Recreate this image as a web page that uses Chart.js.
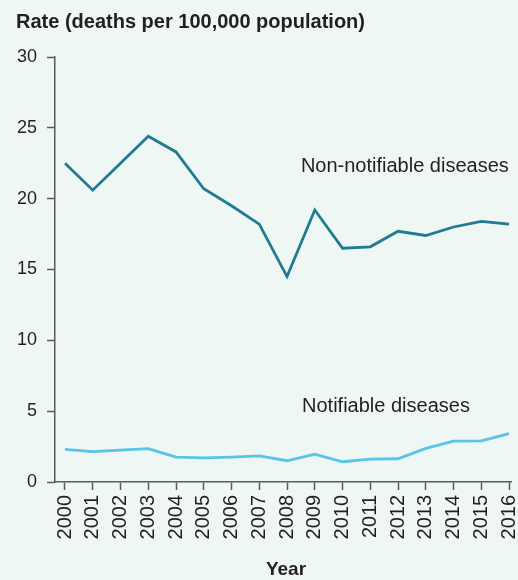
<!DOCTYPE html>
<html>
<head>
<meta charset="utf-8">
<script src="https://cdn.jsdelivr.net/npm/chart.js@4/dist/chart.umd.min.js"></script>
<style>
    html, body { margin: 0; padding: 0; background: #eef7f3; }
    canvas { display: block; }
</style>
</head>
<body>
<canvas id="rateChart" width="518" height="580"></canvas>
<script>
// Data
const years = ['2000', '2001', '2002', '2003', '2004', '2005', '2006', '2007', '2008',
               '2009', '2010', '2011', '2012', '2013', '2014', '2015', '2016'];
const nonNotifiable = [22.5, 20.6, 22.5, 24.4, 23.3, 20.7, 19.5, 18.2, 14.5,
                       19.2, 16.5, 16.6, 17.7, 17.4, 18.0, 18.4, 18.2];
const notifiable = [2.3, 2.15, 2.25, 2.35, 1.75, 1.7, 1.76, 1.85, 1.5,
                    1.97, 1.43, 1.62, 1.64, 2.37, 2.88, 2.9, 3.42];
const yTicks = [0, 5, 10, 15, 20, 25, 30];

const textColor = '#231f20';
const axisColor = '#5a5a5a';
const FONT = '"Liberation Sans", Arial, sans-serif';

// Title, series labels and x axis title
const labelPlugin = {
    id: 'labels',
    afterDraw(chart) {
        const ctx = chart.ctx;
        const x = chart.scales.x;
        const y = chart.scales.y;
        ctx.save();
        ctx.fillStyle = textColor;
        ctx.textBaseline = 'middle';

        ctx.font = 'bold 20px ' + FONT;
        ctx.textAlign = 'left';
        ctx.fillText('Rate (deaths per 100,000 population)', 16, 22);

        ctx.font = '20px ' + FONT;
        ctx.fillText('Non-notifiable diseases', x.getPixelForValue(8.5), y.getPixelForValue(22.3));
        ctx.fillText('Notifiable diseases', x.getPixelForValue(8.54), y.getPixelForValue(5.3));

        ctx.font = 'bold 19px ' + FONT;
        ctx.textAlign = 'center';
        ctx.fillText('Year', 286, 570);
        ctx.restore();
    }
};

new Chart(document.getElementById('rateChart'), {
    type: 'line',
    data: {
        datasets: [{
            label: 'Non-notifiable diseases',
            data: nonNotifiable.map((v, i) => ({ x: i, y: v })),
            borderColor: '#217a93',
            borderWidth: 2.8,
            borderJoinStyle: 'miter',
            pointRadius: 0,
            tension: 0
        }, {
            label: 'Notifiable diseases',
            data: notifiable.map((v, i) => ({ x: i, y: v })),
            borderColor: '#58c4ea',
            borderWidth: 2.8,
            borderJoinStyle: 'miter',
            pointRadius: 0,
            tension: 0
        }]
    },
    options: {
        responsive: false,
        animation: false,
        layout: {
            padding: { top: 57, right: 7, left: 0, bottom: 0 }
        },
        plugins: {
            legend: { display: false },
            tooltip: { enabled: false }
        },
        scales: {
            x: {
                type: 'linear',
                min: -0.36,
                max: 16.07,
                afterBuildTicks: function(scale) {
                    scale.ticks = years.map((yr, i) => ({ value: i }));
                },
                afterFit: function(scale) {
                    scale.height = 98;
                    scale.paddingLeft = 0;
                    scale.paddingRight = 0;
                },
                grid: {
                    drawOnChartArea: false,
                    drawTicks: true,
                    tickLength: 8,
                    tickWidth: 1.5,
                    tickColor: axisColor
                },
                border: { display: true, color: axisColor, width: 1.5 },
                ticks: {
                    autoSkip: false,
                    minRotation: 90,
                    maxRotation: 90,
                    padding: 5,
                    color: textColor,
                    font: { family: FONT, size: 20 },
                    callback: function(value) {
                        return years[value];
                    }
                }
            },
            y: {
                min: 0,
                max: 30,
                afterBuildTicks: function(scale) {
                    scale.ticks = yTicks.map(v => ({ value: v }));
                },
                afterFit: function(scale) {
                    scale.width = 55;
                },
                grid: {
                    drawOnChartArea: false,
                    drawTicks: true,
                    tickLength: 8,
                    tickWidth: 1.5,
                    tickColor: axisColor
                },
                border: { display: true, color: axisColor, width: 1.5 },
                ticks: {
                    padding: 10,
                    color: textColor,
                    font: { family: FONT, size: 18 }
                }
            }
        }
    },
    plugins: [labelPlugin]
});
</script>
</body>
</html>
